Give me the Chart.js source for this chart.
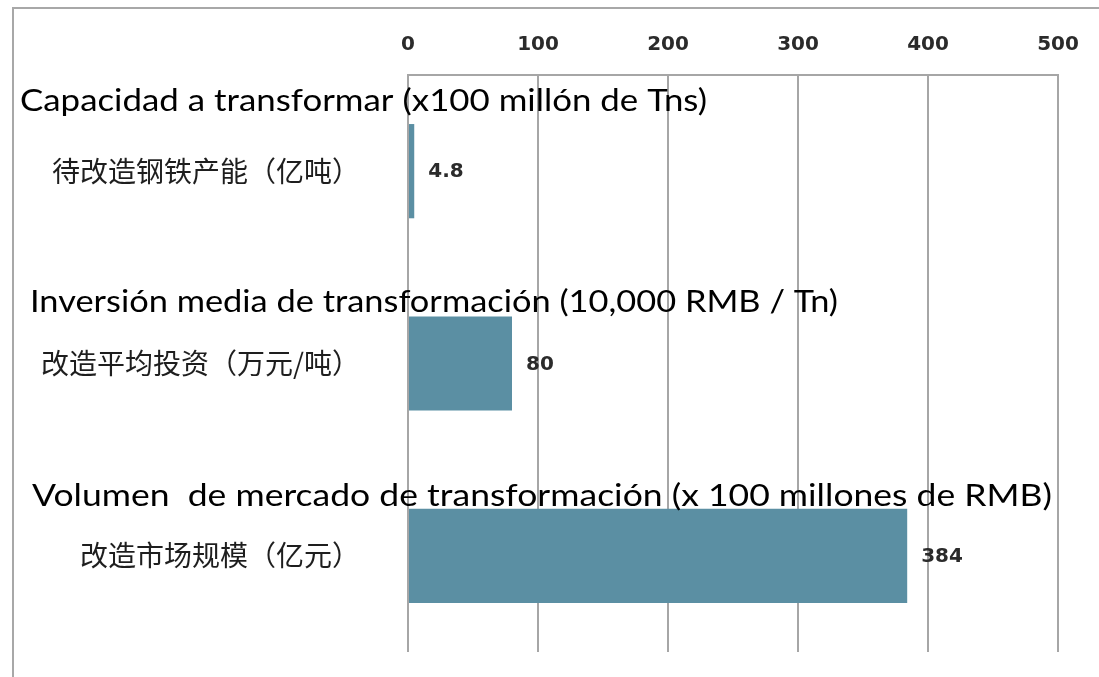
<!DOCTYPE html>
<html>
<head>
<meta charset="utf-8">
<script src="https://cdn.jsdelivr.net/npm/chart.js@4/dist/chart.umd.min.js"></script>
<style>
  html, body { margin: 0; padding: 0; background: #fff; }
  #wrap { position: relative; width: 1099px; height: 677px; }
  #frame { position: absolute; left: 12px; top: 7px; right: 0; bottom: 0; border-left: 2px solid #a8a8a8; border-top: 2px solid #a8a8a8; }
  canvas { position: absolute; left: 0; top: 0; }
</style>
</head>
<body>
<div id="wrap">
  <div id="frame"></div>
  <canvas id="chart" width="1099" height="677"></canvas>
</div>
<script>
// data
const categories = ["待改造钢铁产能（亿吨）", "改造平均投资（万元/吨）", "改造市场规模（亿元）"];
const values = [4.8, 80, 384];
const valueLabels = ["4.8", "80", "384"];
const notes = [
  "Capacidad a transformar (x100 millón de Tns)",
  "Inversión media de transformación (10,000 RMB / Tn)",
  "Volumen  de mercado de transformación (x 100 millones de RMB)"
];
const xTicks = [0, 100, 200, 300, 400, 500];

const BAR = "#5b8fa3";
const NUM_FONT = "bold 20px 'DejaVu Sans'";

// value labels at the end of each bar
const valueLabelPlugin = {
  id: "valueLabels",
  afterDatasetsDraw(chart) {
    const ctx = chart.ctx;
    const meta = chart.getDatasetMeta(0);
    ctx.save();
    ctx.font = NUM_FONT;
    ctx.fillStyle = "#2b2b2b";
    ctx.textBaseline = "middle";
    meta.data.forEach((bar, i) => {
      ctx.fillText(valueLabels[i], bar.x + 14, bar.y + 1);
    });
    ctx.restore();
  }
};

// spanish annotations pasted above each category
// (the original used Calibri; stretch Lato to the same run length)
const notePlugin = {
  id: "notes",
  afterDraw(chart) {
    const ctx = chart.ctx;
    const y = chart.scales.y;
    const lefts = [20, 30, 32];
    const widths = [687, 808, 1020];
    const lift = [60, 52, 50];
    ctx.save();
    ctx.font = "31px Lato";
    ctx.fillStyle = "#000";
    ctx.textBaseline = "alphabetic";
    notes.forEach((t, i) => {
      const w = ctx.measureText(t).width;
      ctx.save();
      ctx.translate(lefts[i], y.getPixelForValue(i) - lift[i]);
      ctx.scale(widths[i] / w, 1);
      ctx.fillText(t, 0, 0);
      ctx.restore();
    });
    ctx.restore();
  }
};

new Chart(document.getElementById("chart"), {
  type: "bar",
  data: {
    labels: categories,
    datasets: [{ data: values, backgroundColor: BAR, borderWidth: 0, barPercentage: 0.49, categoryPercentage: 1 }]
  },
  options: {
    indexAxis: "y",
    responsive: false,
    animation: false,
    layout: { padding: { left: 0, right: 41, top: 0, bottom: 25 } },
    plugins: { legend: { display: false }, tooltip: { enabled: false } },
    scales: {
      x: {
        position: "top",
        min: 0, max: 500,
        afterBuildTicks(s) { s.ticks = xTicks.map(v => ({ value: v })); },
        afterFit(s) { s.height = 75; s.paddingLeft = 0; s.paddingRight = 0; },
        grid: { color: "#a6a6a6", lineWidth: 2, drawTicks: false },
        border: { display: true, color: "#a6a6a6", width: 2 },
        ticks: { color: "#2b2b2b", font: { family: "DejaVu Sans", size: 20, weight: "bold" }, padding: 18 }
      },
      y: {
        afterFit(s) { s.width = 408; s.paddingTop = 0; s.paddingBottom = 0; },
        grid: { display: false },
        border: { display: false },
        ticks: { color: "#1e1e1e", font: { family: "Noto Sans CJK SC", size: 28 }, padding: 40 }
      }
    }
  },
  plugins: [valueLabelPlugin, notePlugin]
});
</script>
</body>
</html>
